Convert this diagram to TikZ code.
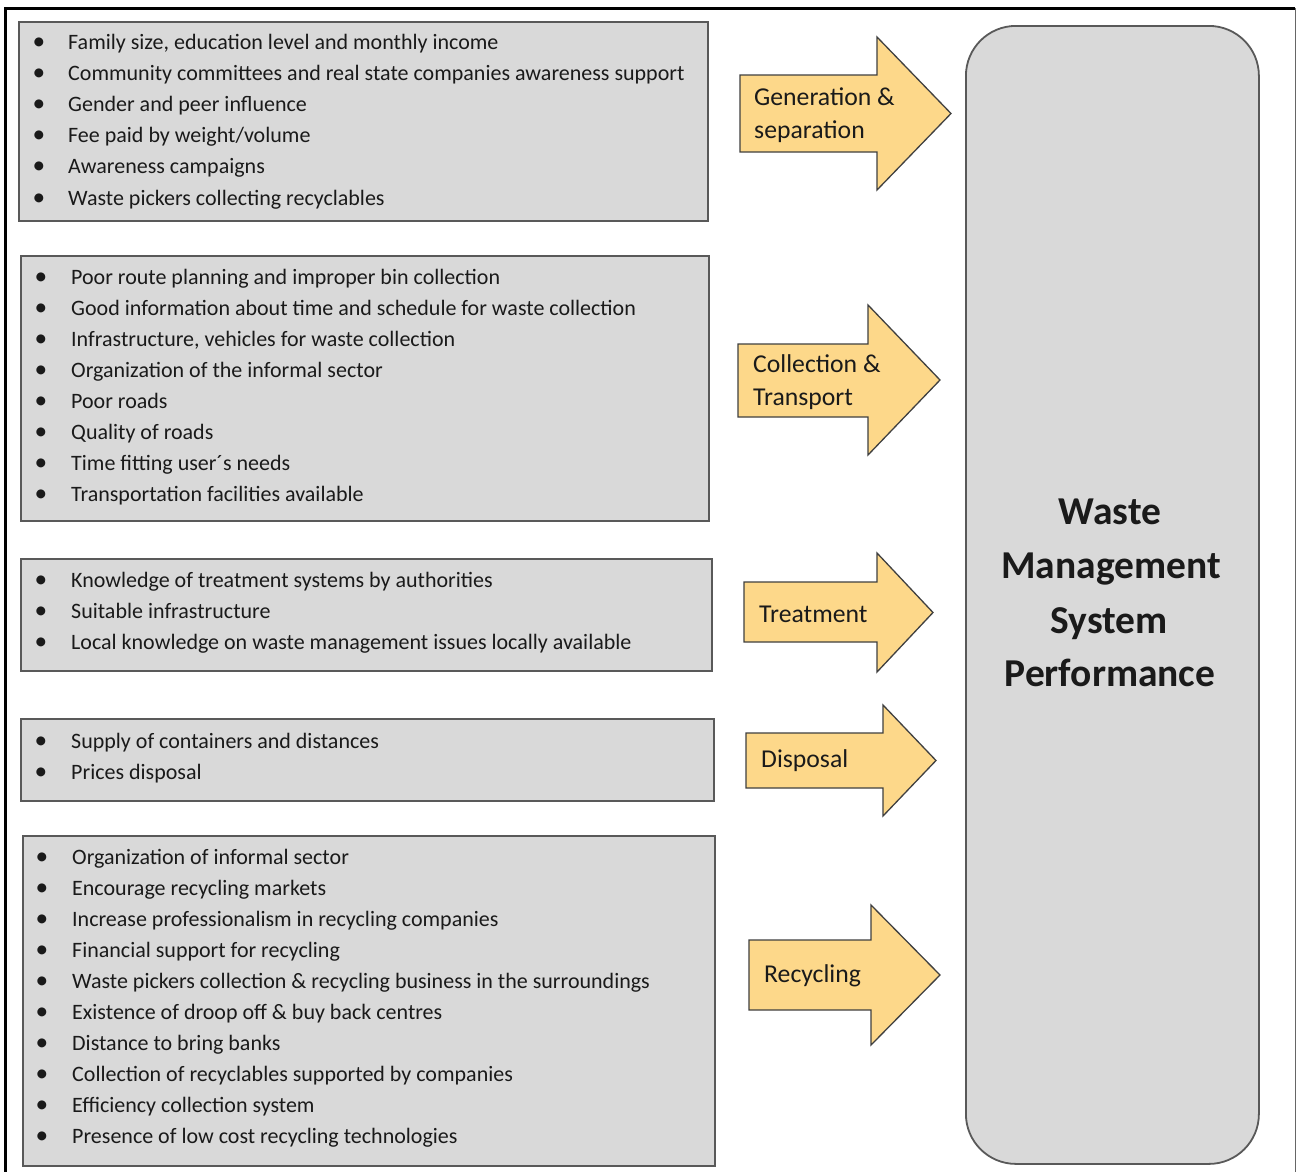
\documentclass[tikz,border=0pt]{standalone}
\usepackage{fontspec}
\setmainfont{Carlito}
\usetikzlibrary{shadows}
\definecolor{boxfill}{HTML}{D9D9D9}
\definecolor{boxline}{HTML}{595959}
\definecolor{arrowfill}{HTML}{FDD88A}
\definecolor{arrowline}{HTML}{404040}
\definecolor{txt}{HTML}{1A1A1A}
\begin{document}
\begin{tikzpicture}[x=1pt,y=-1pt,
  listbox/.style={draw=boxline, fill=boxfill, line width=1.5pt, anchor=north west, inner sep=0pt,
    drop shadow={shadow xshift=1.5pt,shadow yshift=-1.5pt,fill=black,opacity=0.35}},
  item/.style={anchor=base west, inner sep=0pt, text=txt, font=\fontsize{22}{24}\selectfont},
  arrowsty/.style={draw=arrowline, fill=arrowfill, line width=1.3pt, line join=miter},
  alabel/.style={anchor=base west, inner sep=0pt, text=txt, font=\fontsize{25.7}{30}\selectfont},
  bigbox/.style={draw=boxline, fill=boxfill, line width=1.8pt, rounded corners=50pt, anchor=north west, inner sep=0pt},
  title/.style={anchor=base, inner sep=0pt, text=txt, font=\fontsize{39.5}{45}\selectfont\bfseries}
]
\useasboundingbox (0,0) rectangle (1299,1171);
\fill[white] (0,0) rectangle (1299,1171);
% outer frame
\draw[black, line width=3pt] (5,1175) -- (5,8) -- (1295,8);
\draw[black!60, line width=1pt] (1295,8) -- (1295,1175);

% list boxes
\node[listbox, minimum width=689, minimum height=199] (box1) at (18,21) {};
\node[listbox, minimum width=688, minimum height=265] (box2) at (20,255) {};
\node[listbox, minimum width=691, minimum height=112] (box3) at (20,558) {};
\node[listbox, minimum width=693, minimum height=82] (box4) at (20,718) {};
\node[listbox, minimum width=692, minimum height=330] (box5) at (22,835) {};

% box 1
\foreach \t [count=\i] in {{Family size, education level and monthly income},
  {Community committees and real state companies awareness support},
  {Gender and peer influence},
  {Fee paid by weight/volume},
  {Awareness campaigns},
  {Waste pickers collecting recyclables}}
  \node[item] (bA\i) at (32.4,{49+31.2*(\i-1)}) {\makebox[35.6pt][l]{\scalebox{1.15}{\textbullet}}\t};

% box 2
\foreach \t [count=\i] in {{Poor route planning and improper bin collection},
  {Good information about time and schedule for waste collection},
  {Infrastructure, vehicles for waste collection},
  {Organization of the informal sector},
  {Poor roads},
  {Quality of roads},
  {Time fitting user´s needs},
  {Transportation facilities available}}
  \node[item] (bB\i) at (34.4,{284+31*(\i-1)}) {\makebox[36.6pt][l]{\scalebox{1.15}{\textbullet}}\t};

% box 3
\foreach \t [count=\i] in {{Knowledge of treatment systems by authorities},
  {Suitable infrastructure},
  {Local knowledge on waste management issues locally available}}
  \node[item] (bC\i) at (34.4,{587+31*(\i-1)}) {\makebox[36.6pt][l]{\scalebox{1.15}{\textbullet}}\t};

% box 4
\foreach \t [count=\i] in {{Supply of containers and distances},
  {Prices disposal}}
  \node[item] (bD\i) at (34.4,{748+31*(\i-1)}) {\makebox[36.6pt][l]{\scalebox{1.15}{\textbullet}}\t};

% box 5
\foreach \t [count=\i] in {{Organization of informal sector},
  {Encourage recycling markets},
  {Increase professionalism in recycling companies},
  {Financial support for recycling},
  {Waste pickers collection \& recycling business in the surroundings},
  {Existence of droop off \& buy back centres},
  {Distance to bring banks},
  {Collection of recyclables supported by companies},
  {Efficiency collection system},
  {Presence of low cost recycling technologies}}
  \node[item] (bE\i) at (35.4,{864+31.1*(\i-1)}) {\makebox[36.6pt][l]{\scalebox{1.15}{\textbullet}}\t};

% big box
\node[bigbox, minimum width=293, minimum height=1138] (wms) at (965,25) {};
\node[title] (t1) at (1110,524) {Waste};
\node[title] (t2) at (1111,578) {Management};
\node[title] (t3) at (1109,633) {System};
\node[title] (t4) at (1110,686) {Performance};

% arrows
\draw[arrowsty] (740,75) -- (877,75) -- (877,37) -- (951,113.5) -- (877,190) -- (877,152) -- (740,152) -- cycle;
\draw[arrowsty] (738,344) -- (868,344) -- (868,305) -- (940,380) -- (868,455) -- (868,417) -- (738,417) -- cycle;
\draw[arrowsty] (744,582) -- (877,582) -- (877,553) -- (933,612.5) -- (877,672) -- (877,642) -- (744,642) -- cycle;
\draw[arrowsty] (746,733) -- (883,733) -- (883,705) -- (936,760.5) -- (883,816) -- (883,788) -- (746,788) -- cycle;
\draw[arrowsty] (749,940) -- (871,940) -- (871,905) -- (940,975) -- (871,1045) -- (871,1010) -- (749,1010) -- cycle;

\node[alabel] (a1a) at (754,105) {Generation \&};
\node[alabel] (a1b) at (754,138) {separation};
\node[alabel] (a2a) at (753,372) {Collection \&};
\node[alabel] (a2b) at (753,405) {Transport};
\node[alabel] (a3) at (759,622) {Treatment};
\node[alabel] (a4) at (761,767) {Disposal};
\node[alabel] (a5) at (764,982) {Recycling};
\end{tikzpicture}
\end{document}
